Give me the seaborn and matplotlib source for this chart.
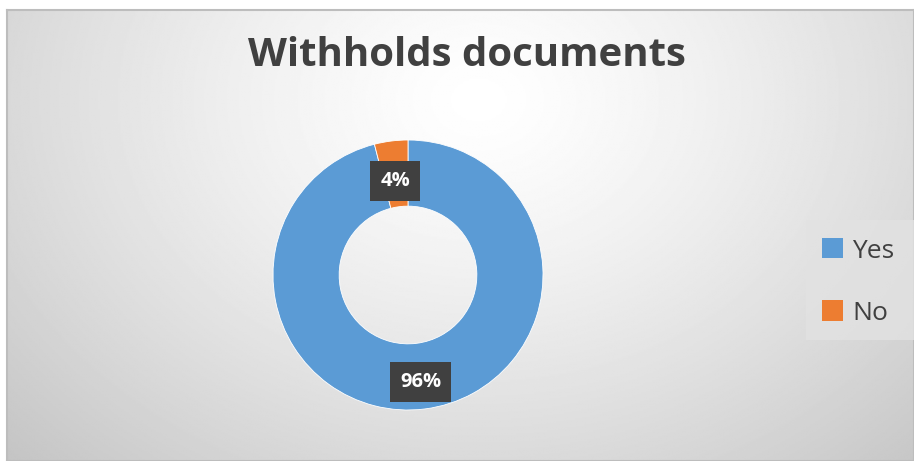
import matplotlib.pyplot as plt
import numpy as np
import seaborn as sns
from matplotlib.patches import Rectangle

categories = ["Yes", "No"]
shares = [96, 4]
labels = ["96%", "4%"]
colors = ["#5B9BD5", "#ED7D31"]


def main():
    sns.set_theme(style="white")
    plt.rcParams["font.family"] = ["Open Sans", "DejaVu Sans"]

    fig = plt.figure(figsize=(9.14, 4.61), dpi=100)
    W, H = 914, 461

    # radial grey background of the chart area
    bg = fig.add_axes([7 / W, 0, 1 - 7 / W, 1 - 10 / H])
    yy, xx = np.mgrid[0:1:300j, 0:1:600j]
    r = np.sqrt(((xx - 0.52) / 0.7) ** 2 + ((yy - 0.2) / 1.1) ** 2)
    shade = np.clip(1.0 - 0.22 * r ** 1.3, 0.76, 1.0)
    bg.imshow(shade, cmap="gray", vmin=0, vmax=1, aspect="auto", extent=[0, 1, 1, 0])
    bg.set_xticks([])
    bg.set_yticks([])
    for s in bg.spines.values():
        s.set_color("#bdbdbd")
        s.set_linewidth(1.5)

    fig.text(467 / W, 1 - 56 / H, "Withholds documents", ha="center", va="center",
             fontsize=29, fontweight="bold", color="#404040")

    cx, cy, rad = 408, 275, 135
    ax = fig.add_axes([(cx - rad) / W, 1 - (cy + rad) / H, 2 * rad / W, 2 * rad / H])
    ax.pie(shares, colors=colors, startangle=90, counterclock=False,
           radius=1, wedgeprops=dict(width=0.49, edgecolor="white", linewidth=0.6))
    ax.set_xlim(-1, 1)
    ax.set_ylim(-1, 1)
    ax.set_aspect("equal")
    ax.axis("off")

    # data labels in dark boxes
    mid_r = 0.75
    start = 90
    for share, lab in zip(shares, labels):
        ang = np.deg2rad(start - share / 100 * 360 / 2)
        start -= share / 100 * 360
        x, y = mid_r * np.cos(ang), mid_r * np.sin(ang)
        ax.text(x, y - 0.05, lab, ha="center", va="center", fontsize=14.5, fontweight="bold",
                color="white", bbox=dict(boxstyle="square,pad=0.5", fc="#404040", ec="none"))

    # legend
    lax = fig.add_axes([806 / W, 1 - 340 / H, (W - 806) / W, 120 / H])
    lax.set_xlim(0, 1)
    lax.set_ylim(0, 1)
    lax.axis("off")
    lax.add_patch(Rectangle((0, 0), 1, 1, fc="#e2e2e2", ec="none", alpha=0.8))
    handles = [Rectangle((0, 0), 1, 1, fc=c, ec="none") for c in colors]
    fig.legend(handles, categories, loc="center left", bbox_to_anchor=(798 / W, 1 - 282 / H),
               frameon=False, fontsize=19, handlelength=0.8, handleheight=0.8,
               handletextpad=0.35, labelspacing=1.4, labelcolor="#404040")

    fig.savefig("out.png", dpi=100)
    plt.close(fig)


if __name__ == '__main__':
    main()
